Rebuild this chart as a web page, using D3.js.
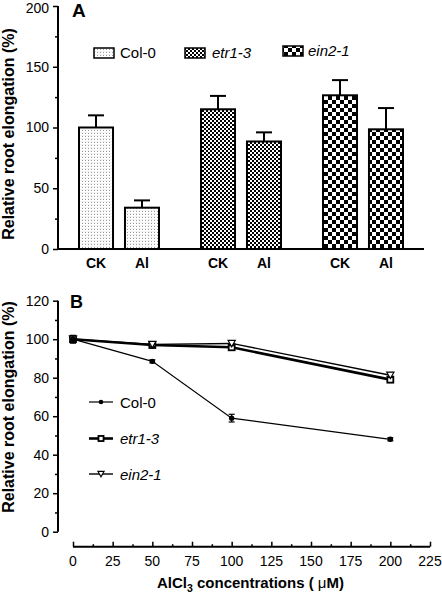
<!DOCTYPE html>
<html><head><meta charset="utf-8">
<script src="https://cdn.jsdelivr.net/npm/d3@7"></script>
<style>
html,body{margin:0;padding:0;background:#fff;}
svg{display:block;font-family:"Liberation Sans",Arial,sans-serif;}
</style></head>
<body>
<svg id="chart" width="442" height="593"></svg>
<script>
// ---------- Data ----------
const genotypes = ["Col-0", "etr1-3", "ein2-1"];
const treatments = ["CK", "Al"];
const barMeans = [[100, 34], [115, 88.5], [126.5, 98.5]];
const barErrors = [[10, 6], [11, 7.5], [12.5, 17.5]];
const yTicksA = [0, 50, 100, 150, 200];

const concentrations = [0, 50, 100, 200];
const col0Line = [100, 88.5, 59, 48];
const col0Err = [2, 0.8, 2, 0.8];
const etrLine = [100, 97, 95.8, 79];
const etrErr = [1.8, 1.5, 1.2, 1.5];
const einLine = [100, 97.3, 97.8, 81.3];
const einErr = [1.5, 1.2, 1.2, 1.2];
const yTicksB = [0, 20, 40, 60, 80, 100, 120];
const xTicksB = [0, 25, 50, 75, 100, 125, 150, 175, 200, 225];

const svg = d3.select("#chart");
const defs = svg.append("defs");

// Patterns
const pCol = defs.append("pattern").attr("id","pCol").attr("patternUnits","userSpaceOnUse").attr("width",3).attr("height",3);
pCol.append("rect").attr("width",3).attr("height",3).attr("fill","#fff");
pCol.append("rect").attr("x",1).attr("y",1).attr("width",1).attr("height",1).attr("fill","#999");
pCol.append("rect").attr("x",0).attr("y",0).attr("width",3).attr("height",1).attr("fill","#f3f3f3");
const pEtr = defs.append("pattern").attr("id","pEtr").attr("patternUnits","userSpaceOnUse").attr("width",4).attr("height",4);
pEtr.append("rect").attr("width",4).attr("height",4).attr("fill","#fff");
pEtr.append("rect").attr("width",2).attr("height",2).attr("fill","#000");
pEtr.append("rect").attr("x",2).attr("y",2).attr("width",2).attr("height",2).attr("fill","#000");
const pEin = defs.append("pattern").attr("id","pEin").attr("patternUnits","userSpaceOnUse").attr("width",8).attr("height",8);
pEin.append("rect").attr("width",8).attr("height",8).attr("fill","#fff");
pEin.append("rect").attr("width",4).attr("height",4).attr("fill","#000");
pEin.append("rect").attr("x",4).attr("y",4).attr("width",4).attr("height",4).attr("fill","#000");
const fills = ["url(#pCol)","url(#pEtr)","url(#pEin)"];

// ---------- Panel A ----------
const yA = d3.scaleLinear().domain([0,200]).range([249,6]);
const xA = d3.scaleBand().domain(genotypes).range([58,424]).padding(0);
const xIn = d3.scaleBand().domain(treatments).range([21,101]).paddingInner(0.26);

const gA = svg.append("g");
genotypes.forEach((g,gi)=>{
  treatments.forEach((t,ti)=>{
    const x0 = xA(g)+xIn(t), w = xIn.bandwidth();
    const v = barMeans[gi][ti], e = barErrors[gi][ti];
    const cx = x0 + w/2;
    gA.append("line").attr("x1",cx).attr("x2",cx).attr("y1",yA(v)).attr("y2",yA(v+e)).attr("stroke","#000").attr("stroke-width",2);
    gA.append("line").attr("x1",cx-8).attr("x2",cx+8).attr("y1",yA(v+e)).attr("y2",yA(v+e)).attr("stroke","#000").attr("stroke-width",2);
    gA.append("rect").attr("x",x0).attr("y",yA(v)).attr("width",w).attr("height",yA(0)-yA(v))
      .attr("fill",fills[gi]).attr("stroke","#000").attr("stroke-width",2);
    gA.append("text").attr("x",cx).attr("y",268).attr("text-anchor","middle")
      .attr("font-size",14).attr("font-weight","bold").text(t);
  });
});
const axA = gA.append("g").attr("transform","translate(58,0)")
  .call(d3.axisLeft(yA).tickValues(yTicksA).tickSize(5).tickPadding(4));
gA.append("g").attr("transform","translate(58,0)")
  .call(d3.axisLeft(yA).tickValues(d3.range(25,200,50)).tickSize(3).tickFormat(""))
  .call(g=>g.select(".domain").remove());
axA.select(".domain").attr("d",`M0,${yA(200)}V${yA(0)}`);
axA.selectAll(".tick text").filter(d=>d===200).attr("dy","0.48em");
gA.append("line").attr("x1",57).attr("x2",424).attr("y1",yA(0)).attr("y2",yA(0)).attr("stroke","#000").attr("stroke-width",2);
gA.append("text").attr("x",72).attr("y",17).attr("font-size",19).attr("font-weight","bold").text("A");
gA.append("text").attr("transform",`translate(14,134) rotate(-90)`).attr("text-anchor","middle")
  .attr("font-size",16).attr("font-weight","bold").text("Relative root elongation (%)");

const legA = [{x:94,y:48,tx:120,ty:58},{x:185,y:48,tx:212,ty:58},{x:283,y:46,tx:308,ty:56}];
genotypes.forEach((g,i)=>{
  const L = legA[i];
  gA.append("rect").attr("x",L.x).attr("y",L.y).attr("width",20).attr("height",10)
    .attr("fill",fills[i]).attr("stroke","#000").attr("stroke-width",1.5);
  gA.append("text").attr("x",L.tx).attr("y",L.ty).attr("font-size",15)
    .attr("font-style", i===0?"normal":"italic").text(g);
});

// ---------- Panel B ----------
const yB = d3.scaleLinear().domain([0,120]).range([531.7,300.7]);
const xB = d3.scaleLinear().domain([0,225]).range([73,430]);
const gB = svg.append("g");

const axB = gB.append("g").attr("transform","translate(58,0)")
  .call(d3.axisLeft(yB).tickValues(yTicksB).tickSize(5).tickPadding(4));
gB.append("g").attr("transform","translate(58,0)")
  .call(d3.axisLeft(yB).tickValues(d3.range(10,120,20)).tickSize(3).tickFormat(""))
  .call(g=>g.select(".domain").remove());
axB.select(".domain").attr("d",`M0,${yB(120)}V${yB(0)}`);

const xAxisY = 546.7;
const axX = gB.append("g").attr("transform",`translate(0,${xAxisY})`)
  .call(d3.axisTop(xB).tickValues(xTicksB).tickSize(5).tickFormat(""));
axX.select(".domain").attr("d",`M${xB(0)},0H${xB(225)}`);
gB.append("g").attr("transform",`translate(0,${xAxisY})`)
  .call(d3.axisTop(xB).tickValues(d3.range(12.5,225,25)).tickSize(2.5).tickFormat(""))
  .call(g=>g.select(".domain").remove());
xTicksB.forEach(t=>{
  gB.append("text").attr("x",xB(t)).attr("y",xAxisY+19).attr("text-anchor","middle").attr("font-size",14).text(t);
});
const xt = gB.append("text").attr("x",250.5).attr("y",588).attr("text-anchor","middle").attr("font-size",15).attr("font-weight","bold");
xt.append("tspan").text("AlCl");
xt.append("tspan").attr("font-size",10.5).attr("dy",4).text("3");
xt.append("tspan").attr("dy",-4).text(" concentrations ( ");
xt.append("tspan").attr("font-weight","normal").text("μ");
xt.append("tspan").text("M)");

gB.append("text").attr("x",70).attr("y",308).attr("font-size",18).attr("font-weight","bold").text("B");
gB.append("text").attr("transform",`translate(14,407) rotate(-90)`).attr("text-anchor","middle")
  .attr("font-size",16).attr("font-weight","bold").text("Relative root elongation (%)");

const line = d3.line().x((d,i)=>xB(concentrations[i])).y(d=>yB(d));
const series = [
  {name:"etr1-3", vals:etrLine, err:etrErr, w:2.6, marker:"square"},
  {name:"ein2-1", vals:einLine, err:einErr, w:1.4, marker:"tri"},
  {name:"Col-0", vals:col0Line, err:col0Err, w:1.2, marker:"circle"}
];
function marker(g, type, x, y, s){
  s = s || 1;
  if(type==="circle") g.append("circle").attr("cx",x).attr("cy",y).attr("r",2.7*s).attr("fill","#000");
  else if(type==="square") g.append("rect").attr("x",x-3*s).attr("y",y-3*s).attr("width",6*s).attr("height",6*s).attr("fill","#fff").attr("stroke","#000").attr("stroke-width",1.8);
  else g.append("path").attr("d",`M${x-3.6*s},${y-3*s}L${x+3.6*s},${y-3*s}L${x},${y+3.4*s}Z`).attr("fill","#fff").attr("stroke","#000").attr("stroke-width",1.2);
}
series.forEach(s=>{
  gB.append("path").datum(s.vals).attr("d",line).attr("fill","none").attr("stroke","#000").attr("stroke-width",s.w);
  s.vals.forEach((v,i)=>{
    const x = xB(concentrations[i]);
    gB.append("line").attr("x1",x).attr("x2",x).attr("y1",yB(v-s.err[i])).attr("y2",yB(v+s.err[i])).attr("stroke","#000").attr("stroke-width",1.2);
    [v-s.err[i], v+s.err[i]].forEach(e=>gB.append("line").attr("x1",x-3).attr("x2",x+3).attr("y1",yB(e)).attr("y2",yB(e)).attr("stroke","#000").attr("stroke-width",1.2));
    marker(gB, s.marker, x, yB(v));
  });
});
const legB = [{s:2,y:402},{s:0,y:438.5},{s:1,y:474}];
legB.forEach(L=>{
  const s = series[L.s];
  gB.append("line").attr("x1",89).attr("x2",113).attr("y1",L.y).attr("y2",L.y).attr("stroke","#000").attr("stroke-width",s.w);
  marker(gB, s.marker, 101, L.y, 0.85);
  gB.append("text").attr("x",120).attr("y",L.y+5.5).attr("font-size",15)
    .attr("font-style", s.name==="Col-0"?"normal":"italic").text(s.name);
});

svg.selectAll(".tick text").attr("font-size",14).attr("font-family","Liberation Sans, Arial, sans-serif").attr("fill","#000");
svg.selectAll(".domain").attr("stroke","#000").attr("stroke-width",2);
svg.selectAll(".tick line").attr("stroke","#000").attr("stroke-width",1.5);
</script>
</body></html>
